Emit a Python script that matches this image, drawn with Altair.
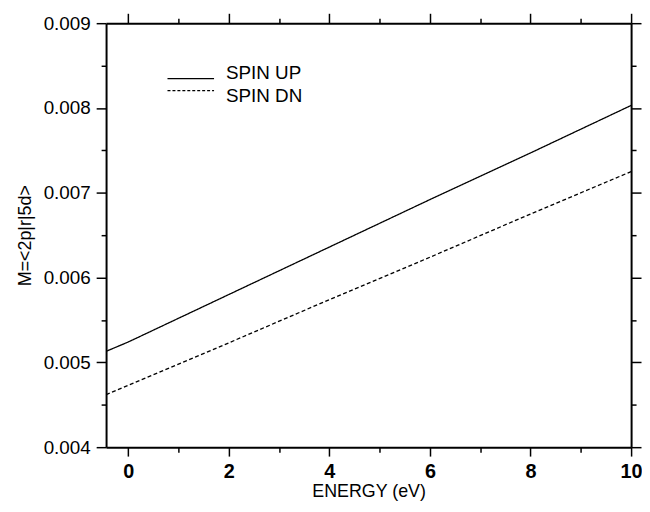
import altair as alt
import pandas as pd

# ---- data ----
energy = [-0.44, 0, 2, 4, 6, 8, 10]
spin_up = [0.00513, 0.00524, 0.00580, 0.00636, 0.00692, 0.00747, 0.00803]
spin_dn = [0.00462, 0.00473, 0.00523, 0.00574, 0.00624, 0.00675, 0.00725]
series = ["SPIN UP", "SPIN DN"]
x_ticks = [0, 1, 2, 3, 4, 5, 6, 7, 8, 9, 10]
y_ticks = [0.004, 0.0045, 0.005, 0.0055, 0.006, 0.0065, 0.007, 0.0075, 0.008, 0.0085, 0.009]
x_domain = [-0.44, 10]
y_domain = [0.004, 0.009]

rows = []
for e, u, d in zip(energy, spin_up, spin_dn):
    rows.append({"E": e, "M": u, "S": series[0]})
    rows.append({"E": e, "M": d, "S": series[1]})
df = pd.DataFrame(rows)
legend_df = pd.DataFrame({"S": series})

FONT = "Liberation Sans"
x_major = "datum.value % 2 == 0"
y_major = "abs(datum.value*1000 - round(datum.value*1000)) < 0.01"

common_axis = dict(
    domainColor="black", domainWidth=2, tickColor="black", tickWidth=1.5,
    grid=False, labelFont=FONT, titleFont=FONT, labelColor="black", titleColor="black",
    labelFlush=False,
)

x_bottom = alt.Axis(
    values=x_ticks, orient="bottom", title="ENERGY (eV)",
    labelExpr=f"{x_major} ? datum.label : ''",
    tickSize={"condition": {"test": x_major, "value": 9}, "value": 5},
    labelFontSize=20, labelFontWeight="bold", labelPadding=6,
    titleFontSize=18, titleFontWeight="normal", titlePadding=1,
    **common_axis,
)
y_left = alt.Axis(
    values=y_ticks, orient="left", title="M=<2p|r|5d>",
    labelExpr=f"{y_major} ? format(datum.value, '.3f') : ''",
    tickSize={"condition": {"test": y_major, "value": 10}, "value": 5},
    labelFontSize=19, labelPadding=6,
    titleFontSize=18, titleFontWeight="normal", titlePadding=9,
    **common_axis,
)
x_top = alt.Axis(
    values=x_ticks, orient="top", title=None, labels=False,
    tickSize={"condition": {"test": x_major, "value": 10}, "value": 5},
    **common_axis,
)
y_right = alt.Axis(
    values=y_ticks, orient="right", title=None, labels=False,
    tickSize={"condition": {"test": y_major, "value": 10}, "value": 5},
    **common_axis,
)

xs = alt.Scale(domain=x_domain, nice=False, zero=False)
ys = alt.Scale(domain=y_domain, nice=False, zero=False)
dash_scale = alt.Scale(domain=series, range=[[1, 0], [4, 2.5]])

lines = alt.Chart(df).mark_line(color="black", strokeWidth=1.3, clip=True).encode(
    x=alt.X("E:Q", scale=xs, axis=x_bottom),
    y=alt.Y("M:Q", scale=ys, axis=y_left),
    strokeDash=alt.StrokeDash("S:N", scale=dash_scale, legend=None),
    detail="S:N",
)

frame = alt.Chart(df).mark_line(opacity=0).encode(
    x=alt.X("E:Q", scale=xs, axis=x_top),
    y=alt.Y("M:Q", scale=ys, axis=y_right),
    detail="S:N",
)

# hand-drawn legend (inside the plot, upper left)
leg_y = alt.Y("S:N", scale=alt.Scale(domain=series, range=[50, 74], padding=0), axis=None)
leg_lines = alt.Chart(legend_df).mark_rule(color="black", strokeWidth=1.2).encode(
    x=alt.value(62), x2=alt.value(109), y=leg_y,
    strokeDash=alt.StrokeDash("S:N", scale=alt.Scale(domain=series, range=[[1, 0], [3, 2]]), legend=None),
)
leg_text = alt.Chart(legend_df).mark_text(
    align="left", baseline="middle", font=FONT, fontSize=19, color="black"
).encode(
    x=alt.value(121), y=leg_y, text="S:N",
)

chart = alt.layer(lines, frame, leg_lines, leg_text).resolve_scale(
    x="independent", y="independent", strokeDash="independent"
).properties(
    width=530, height=428,
    autosize=alt.AutoSizeParams(type="none"),
    padding={"left": 99, "top": 13, "right": 11, "bottom": 52},
).configure_view(stroke=None)

chart.save("out.html", embed_options={"renderer": "svg", "actions": False})
